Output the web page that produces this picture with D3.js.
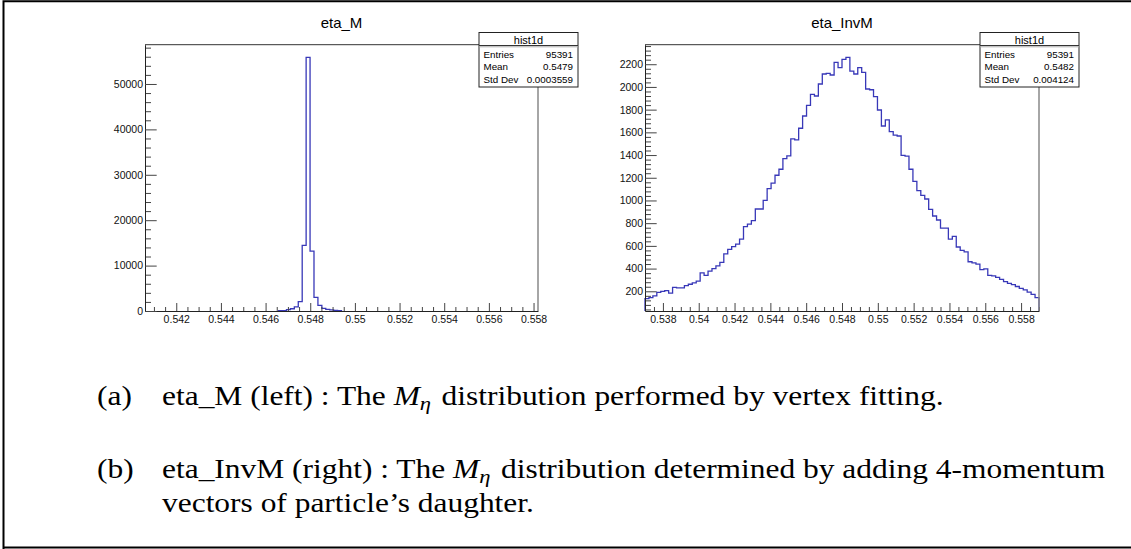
<!DOCTYPE html>
<html><head><meta charset="utf-8">
<script src="https://cdn.jsdelivr.net/npm/d3@7"></script>
<style>html,body{margin:0;padding:0;background:#fff;} svg{display:block;}</style>
</head><body>
<svg id="c" width="1131" height="549"></svg>
<script>
// ---------------- data ----------------
// eta_M (left panel)
const etaM_title = "eta_M";
const etaM_range = [0.5406, 0.5582];
const etaM_nbins = 100;
const etaM_firstBin = 34;
const etaM_counts = [100, 100, 300, 500, 900, 2050, 14470, 55880, 13200, 3020, 1250, 600, 350, 250, 150, 100];
const etaM_yRange = [0, 58650];
const etaM_xTicks = [0.542, 0.544, 0.546, 0.548, 0.550, 0.552, 0.554, 0.556, 0.558];
const etaM_yTicks = [0, 10000, 20000, 30000, 40000, 50000];
const etaM_stats = ["95391", "0.5479", "0.0003559"];

// eta_InvM (right panel)
const etaInvM_title = "eta_InvM";
const etaInvM_range = [0.537, 0.559];
const etaInvM_nbins = 100;
const etaInvM_counts = [
  135, 145, 160, 190, 200, 205, 183, 235, 230, 230,
  250, 262, 275, 290, 362, 340, 378, 400, 423, 455,
  530, 570, 593, 615, 660, 770, 792, 822, 925, 925,
  1000, 1105, 1152, 1222, 1275, 1368, 1392, 1542, 1533, 1636,
  1744, 1838, 1935, 1920, 2026, 2114, 2120, 2105, 2217, 2170,
  2243, 2261, 2140, 2114, 2170, 2129, 1982, 1975, 1914, 1797,
  1656, 1709, 1606, 1575, 1568, 1398, 1390, 1275, 1168, 1086,
  1045, 1013, 922, 863, 828, 757, 757, 660, 684, 590,
  560, 548, 460, 450, 440, 390, 398, 340, 335, 322,
  305, 285, 270, 258, 242, 225, 212, 192, 172, 145];
const etaInvM_yRange = [26.4, 2372];
const etaInvM_xTicks = [0.538, 0.540, 0.542, 0.544, 0.546, 0.548, 0.550, 0.552, 0.554, 0.556, 0.558];
const etaInvM_yTicks = [200, 400, 600, 800, 1000, 1200, 1400, 1600, 1800, 2000, 2200];
const etaInvM_stats = ["95391", "0.5482", "0.004124"];

const statTitle = "hist1d";
const statLabels = ["Entries", "Mean", "Std Dev"];

// ---------------- drawing ----------------
const W = 1131, H = 549;
const svg = d3.select("#c");
svg.append("rect").attr("width", W).attr("height", H).attr("fill", "#fff");
const SANS = "'Liberation Sans', Arial, Helvetica, sans-serif";
const fmt = v => String(+v.toFixed(4));

function panel(o) {
  const g = svg.append("g");
  const x = d3.scaleLinear().domain(o.xRange).range([o.x0, o.x1]);
  const y = d3.scaleLinear().domain(o.yRange).range([o.y1, o.y0]);

  // histogram (step outline)
  const bw = (o.xRange[1] - o.xRange[0]) / o.nbins;
  const n = o.counts.length;
  const pts = [];
  const edge = i => o.xRange[0] + i * bw;
  pts.push([edge(o.firstBin), o.yRange[0]]);
  o.counts.forEach((c, i) => pts.push([edge(o.firstBin + i), c]));
  pts.push([edge(o.firstBin + n), o.counts[n - 1]]);
  pts.push([edge(o.firstBin + n), o.yRange[0]]);
  const line = d3.line().x(d => x(d[0])).y(d => y(d[1])).curve(d3.curveStepAfter);
  g.append("path").attr("d", line(pts))
    .attr("fill", "none").attr("stroke", "#3838b8").attr("stroke-width", 1.3);

  // minor ticks
  const xMinor = d3.range(Math.ceil(o.xRange[0] / 0.0005 - 1e-6), Math.floor(o.xRange[1] / 0.0005 + 1e-6) + 1)
    .map(k => +(k * 0.0005).toFixed(5)).filter(v => !o.xTicks.some(t => Math.abs(t - v) < 1e-7));
  const ys = o.yMinorStep;
  const yMinor = d3.range(Math.ceil(o.yRange[0] / ys), Math.floor(o.yRange[1] / ys) + 1)
    .map(k => k * ys).filter(v => !o.yTicks.includes(v));

  const ax1 = g.append("g").attr("transform", `translate(0,${o.y1})`)
    .call(d3.axisBottom(x).tickValues(xMinor).tickSize(-4).tickSizeOuter(0).tickFormat(""));
  ax1.select(".domain").remove();
  const ax2 = g.append("g").attr("transform", `translate(0,${o.y1})`)
    .call(d3.axisBottom(x).tickValues(o.xTicks).tickSize(-8).tickSizeOuter(0).tickPadding(4.5).tickFormat(fmt));
  ax2.attr("font-size", 10.5).attr("font-family", SANS);
  const ay1 = g.append("g").attr("transform", `translate(${o.x0},0)`)
    .call(d3.axisLeft(y).tickValues(yMinor).tickSize(-6).tickSizeOuter(0).tickFormat(""));
  ay1.select(".domain").remove();
  const ay2 = g.append("g").attr("transform", `translate(${o.x0},0)`)
    .call(d3.axisLeft(y).tickValues(o.yTicks).tickSize(-11.7).tickSizeOuter(0).tickPadding(2).tickFormat(d3.format("d")));
  ay2.attr("font-size", 10.5).attr("font-family", SANS);
  g.selectAll(".tick line").attr("stroke", "#444");
  g.selectAll(".domain").attr("stroke", "#222");
  g.selectAll(".tick text").attr("fill", "#111");

  // frame top / right
  g.append("line").attr("x1", o.x0).attr("x2", o.x1).attr("y1", o.y0).attr("y2", o.y0)
    .attr("stroke", "#333").attr("stroke-width", 1);
  g.append("line").attr("x1", o.x1).attr("x2", o.x1).attr("y1", o.y0).attr("y2", o.y1)
    .attr("stroke", "#888").attr("stroke-width", 1.5);

  // title
  g.append("text").attr("x", (o.x0 + o.x1) / 2).attr("y", 27.5).attr("text-anchor", "middle")
    .attr("font-family", SANS).attr("font-size", 15).attr("fill", "#000").text(o.title);

  // stats box
  const bx = o.x1 - 59, by = 32.5, bwid = 99, bh = 54.5;
  g.append("rect").attr("x", bx).attr("y", by).attr("width", bwid).attr("height", bh)
    .attr("fill", "#fff").attr("stroke", "#222").attr("stroke-width", 1);
  g.append("line").attr("x1", bx).attr("x2", bx + bwid).attr("y1", 45.5).attr("y2", 45.5)
    .attr("stroke", "#333").attr("stroke-width", 1);
  g.append("line").attr("x1", bx).attr("x2", bx + bwid).attr("y1", 46.8).attr("y2", 46.8)
    .attr("stroke", "#aaa").attr("stroke-width", 1);
  g.append("text").attr("x", bx + bwid / 2).attr("y", 43.5).attr("text-anchor", "middle")
    .attr("font-family", SANS).attr("font-size", 11).text(statTitle);
  const rowY = [57.5, 70, 83];
  statLabels.forEach((lab, i) => {
    g.append("text").attr("x", bx + 4.5).attr("y", rowY[i]).attr("font-family", SANS)
      .attr("font-size", 9.8).text(lab);
    g.append("text").attr("x", bx + bwid - 5).attr("y", rowY[i]).attr("text-anchor", "end")
      .attr("font-family", SANS).attr("font-size", 9.8).text(o.stats[i]);
  });
}

panel({title: etaM_title, xRange: etaM_range, nbins: etaM_nbins, firstBin: etaM_firstBin,
  counts: etaM_counts, yRange: etaM_yRange, xTicks: etaM_xTicks, yTicks: etaM_yTicks,
  yMinorStep: 2000, stats: etaM_stats, x0: 145, x1: 538, y0: 44.7, y1: 311});
panel({title: etaInvM_title, xRange: etaInvM_range, nbins: etaInvM_nbins, firstBin: 0,
  counts: etaInvM_counts, yRange: etaInvM_yRange, xTicks: etaInvM_xTicks, yTicks: etaInvM_yTicks,
  yMinorStep: 40, stats: etaInvM_stats, x0: 645, x1: 1039, y0: 44.7, y1: 311});

// outer border (top, left, bottom)
svg.append("path").attr("d", `M3.5,${H} V1.2 H${W} M3.5,547.5 H${W}`)
  .attr("fill", "none").attr("stroke", "#000").attr("stroke-width", 2);

// caption
const SERIF = "'Liberation Serif', 'Times New Roman', serif";
const fs = 27;
const sx = 1.165;
const cap = svg.append("g").attr("font-family", SERIF).attr("fill", "#000").attr("font-size", fs);
function mEta(t) {
  t.append("tspan").attr("font-style", "italic").text("M");
  t.append("tspan").attr("font-style", "italic").attr("font-size", "72%").attr("dy", "0.28em").text("η");
  t.append("tspan").attr("dy", "-0.2em").text("\u200A");
}
function capText(x, y) {
  return cap.append("text").attr("transform", `translate(${x},${y}) scale(${sx},1)`);
}
capText(97, 405).text("(a)");
const ta = capText(162, 405);
ta.append("tspan").text("eta_M (left) : The ");
mEta(ta);
ta.append("tspan").text(" distribution performed by vertex fitting.");
capText(97, 478).text("(b)");
const tb = capText(162, 478);
tb.append("tspan").text("eta_InvM (right)  : The ");
mEta(tb);
tb.append("tspan").text(" distribution determined by adding 4-momentum");
capText(162, 512).text("vectors of particle\u2019s daughter.");
</script>
</body></html>
